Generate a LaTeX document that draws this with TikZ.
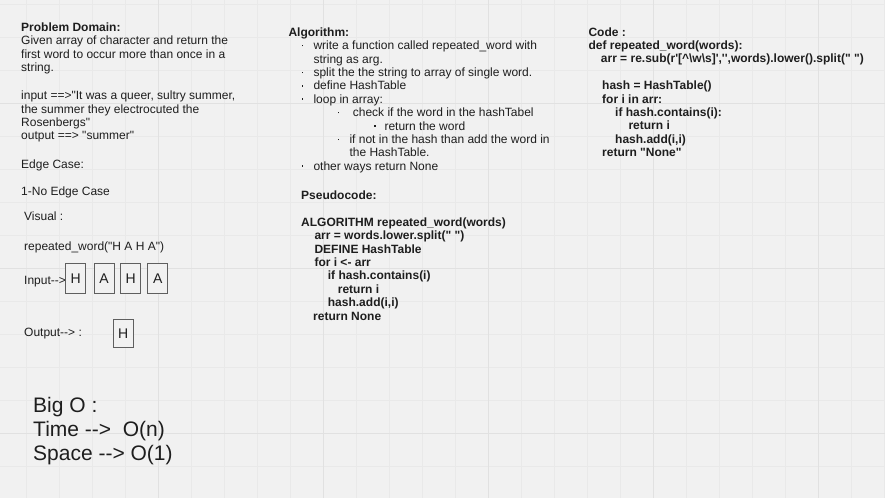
\documentclass[tikz,border=0pt]{standalone}
\usepackage{fontspec}
\setmainfont{Liberation Sans}[Ligatures=TeXOff]
\usetikzlibrary{positioning}
\definecolor{pagebg}{RGB}{241,241,241}
\definecolor{gridminor}{RGB}{233,233,233}
\definecolor{gridmajor}{RGB}{225,225,225}
\definecolor{ink}{RGB}{30,30,30}
\definecolor{cellline}{RGB}{95,95,95}
\newcommand\bul{\makebox[0pt][c]{\raisebox{3.4pt}{\rule{1.6pt}{1.6pt}}}}
\newcommand\itm[3]{\makebox[0pt][l]{\hspace*{#1pt}\bul}\hspace*{#2pt}#3}
\tikzset{
  txt/.style  = {anchor=base west, inner sep=0pt, align=left, text=ink,
                 font=\fontsize{12}{13.4}\selectfont},
  bold/.style = {txt, font=\fontsize{12}{13.4}\selectfont\bfseries},
  big/.style  = {txt, font=\fontsize{21}{24}\selectfont},
  cell/.style = {rectangle, draw=cellline, line width=1.1pt, fill=pagebg,
                 minimum width=20pt, minimum height=30pt, inner sep=0pt,
                 text=ink, font=\fontsize{14}{16}\selectfont}
}

\begin{document}
\begin{tikzpicture}[x=1pt, y=-1pt]
    \useasboundingbox (0,0) rectangle (885,498);
    \fill[pagebg] (0,0) rectangle (885,498);
    % grid
    \foreach \gx in {26.3,59.3,...,885} \draw[gridminor, line width=0.8pt] (\gx,0) -- (\gx,498);
    \foreach \gy in {4.3,37.3,...,498} \draw[gridminor, line width=0.8pt] (0,\gy) -- (885,\gy);
    \foreach \gx in {158.3,323.3,...,885} \draw[gridmajor, line width=1pt] (\gx,0) -- (\gx,498);
    \foreach \gy in {103.3,268.3,...,498} \draw[gridmajor, line width=1pt] (0,\gy) -- (885,\gy);

    % left column (multi-line nodes sit on their last baseline)
    \node[txt] (domain) at (21,139.9)
      {\textbf{Problem Domain:}\\
       Given array of character and return the\\
       first word to occur more than once in a\\
       string.\\[14.6pt]
       input ==>"It was a queer, sultry summer,\\
       the summer they electrocuted the\\
       Rosenbergs"\\
       output ==> "summer"};
    \node[txt] (edge) at (21,195) {Edge Case:\\[13.4pt]1-No Edge Case};
    \node[txt] (visual) at (24,220) {Visual :};
    \node[txt] (call) at (24,250.7) {repeated\_word("H A H A")};
    \node[txt] (inlabel) at (24,284) {Input-->};
    \node[cell] (h1) at (75.7,278.7) {H};
    \node[cell, right=7.3pt of h1] (a1) {A};
    \node[cell, right=5.6pt of a1] (h2) {H};
    \node[cell, right=6pt of h2] (a2) {A};
    \node[txt] (outlabel) at (24,336.4) {Output--> :};
    \node[cell, minimum height=28pt] (outcell) at (123.3,333.3) {H};
    \node[big] (bigo) at (33,460.7) {Big O :\\ Time -->\ \ O(n)\\ Space --> O(1)};

    % middle column
    \node[txt] (algo) at (288.3,170.3)
      {\textbf{Algorithm:}\\
       \itm{14}{25}{write a function called repeated\_word with}\\
       \hspace*{25pt}string as arg.\\
       \itm{14}{25}{split the the string to array of single word.}\\
       \itm{14}{25}{define HashTable}\\
       \itm{14}{25}{loop in array:}\\
       \itm{50}{64.4}{check if the word in the hashTabel}\\
       \itm{86.7}{96}{return the word}\\
       \itm{50}{61}{if not in the hash than add the word in}\\
       \hspace*{61pt}the HashTable.\\
       \itm{14}{25}{other ways return None}};
    \node[bold] (pseudo) at (301,320)
      {Pseudocode:\\[13.4pt]
       ALGORITHM repeated\_word(words)\\
       \hspace*{13.3pt}arr = words.lower.split(" ")\\
       \hspace*{13.3pt}DEFINE HashTable\\
       \hspace*{13.3pt}for i <- arr\\
       \hspace*{26.7pt}if hash.contains(i)\\
       \hspace*{36.7pt}return i\\
       \hspace*{26.7pt}hash.add(i,i)\\
       \hspace*{12pt}return None};

    % right column
    \node[bold] (code) at (588.3,156.7)
      {Code :\\
       def repeated\_word(words):\\
       \hspace*{12.4pt}arr = re.sub(r'[\textasciicircum\textbackslash w\textbackslash s]','',words).lower().split(" ")\\[13.4pt]
       \hspace*{13.7pt}hash = HashTable()\\
       \hspace*{13.7pt}for i in arr:\\
       \hspace*{26.7pt}if hash.contains(i):\\
       \hspace*{40pt}return i\\
       \hspace*{26.7pt}hash.add(i,i)\\
       \hspace*{13.7pt}return "None"};
\end{tikzpicture}
\end{document}
